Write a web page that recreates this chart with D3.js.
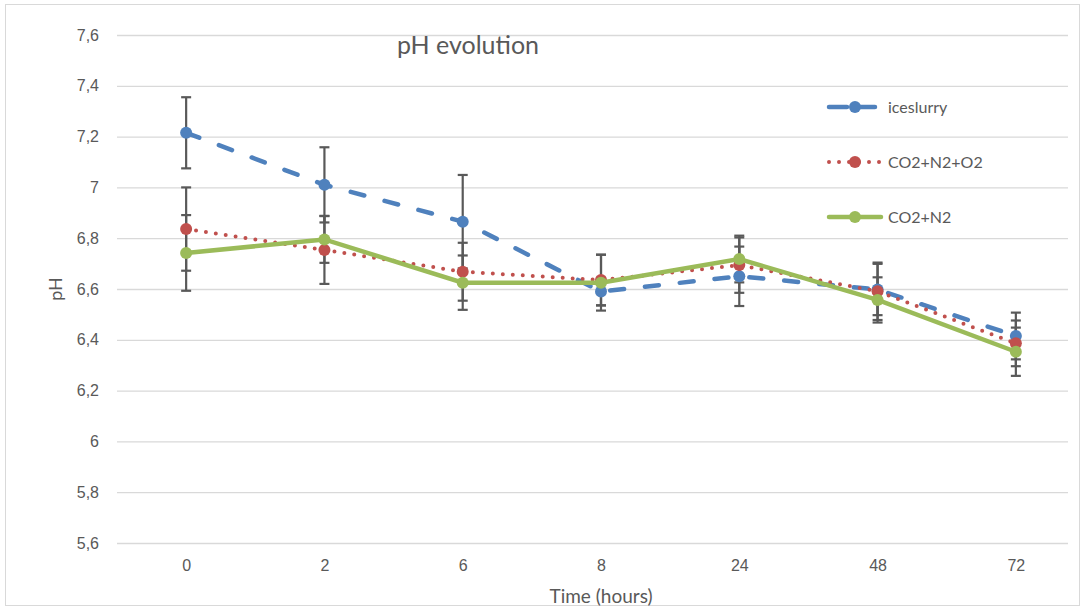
<!DOCTYPE html>
<html>
<head>
<meta charset="utf-8">
<script src="https://cdn.jsdelivr.net/npm/d3@7"></script>
<style>
  body { margin: 0; background: #fff; }
  svg { font-family: Lato, "Open Sans", sans-serif; }
</style>
</head>
<body>
<div class="d3-container"></div>
<script>
// data
const categories = ["0", "2", "6", "8", "24", "48", "72"];
const iceslurry = [7.215, 7.01, 6.865, 6.59, 6.65, 6.598, 6.415];
const iceslurryErr = [0.14, 0.148, 0.184, 0.054, 0.117, 0.101, 0.092];
const co2n2o2 = [6.836, 6.754, 6.668, 6.635, 6.694, 6.591, 6.386];
const co2n2o2Err = [0.164, 0.134, 0.114, 0.1, 0.109, 0.113, 0.09];
const co2n2 = [6.742, 6.795, 6.625, 6.625, 6.718, 6.557, 6.353];
const co2n2Err = [0.149, 0.092, 0.107, 0.11, 0.092, 0.089, 0.095];
const yTicks = [5.6, 5.8, 6, 6.2, 6.4, 6.6, 6.8, 7, 7.2, 7.4, 7.6];

const series = [
  {name: "iceslurry", values: iceslurry, err: iceslurryErr, color: "#4f81bd", dash: "14,21"},
  {name: "CO2+N2+O2", values: co2n2o2, err: co2n2o2Err, color: "#c0504d", dash: "0,10"},
  {name: "CO2+N2", values: co2n2, err: co2n2Err, color: "#9bbb59", dash: null},
];

const width = 1081;
const height = 610;
const plot = {left: 117, right: 1068, top: 35, bottom: 543};

const svg = d3.select(".d3-container")
  .append("svg")
  .attr("width", width)
  .attr("height", height);

// chart border
svg.append("rect")
  .attr("x", 5.5).attr("y", 4.5)
  .attr("width", 1074).attr("height", 601)
  .attr("fill", "#fff")
  .attr("stroke", "#d9d9d9");

const x = d3.scalePoint()
  .domain(categories)
  .range([plot.left, 1085])
  .padding(0.5);

const y = d3.scaleLinear()
  .domain([5.6, 7.6])
  .range([plot.bottom, plot.top]);

// y axis with gridlines
const yAxis = svg.append("g")
  .attr("transform", `translate(${plot.left},0)`)
  .call(d3.axisLeft(y)
    .tickValues(yTicks)
    .tickSize(-(plot.right - plot.left))
    .tickPadding(18)
    .tickFormat(d => String(+d.toFixed(1)).replace(".", ",")));
yAxis.select(".domain").remove();
yAxis.selectAll(".tick line").attr("stroke", "#d9d9d9").attr("stroke-width", 1.3);
yAxis.selectAll(".tick text").attr("fill", "#595959").attr("font-size", 16);

// x axis
const xAxis = svg.append("g")
  .attr("transform", `translate(0,${plot.bottom})`)
  .call(d3.axisBottom(x).tickSize(0).tickPadding(17));
xAxis.select(".domain").remove();
xAxis.selectAll(".tick text").attr("fill", "#595959").attr("font-size", 16);

// titles
svg.append("text")
  .attr("x", 468).attr("y", 54)
  .attr("text-anchor", "middle")
  .attr("fill", "#595959")
  .attr("font-size", 25)
  .text("pH evolution");

svg.append("text")
  .attr("x", 601).attr("y", 603)
  .attr("text-anchor", "middle")
  .attr("fill", "#595959")
  .attr("font-size", 19)
  .text("Time (hours)");

svg.append("text")
  .attr("transform", `translate(62,289) rotate(-90)`)
  .attr("text-anchor", "middle")
  .attr("fill", "#595959")
  .attr("font-size", 18)
  .text("pH");

// error bars
const errG = svg.append("g").attr("stroke", "#595959").attr("stroke-width", 2.2);
series.forEach(s => {
  s.values.forEach((v, i) => {
    const cx = x(categories[i]);
    const lo = y(v - s.err[i]), hi = y(v + s.err[i]);
    errG.append("line").attr("x1", cx).attr("x2", cx).attr("y1", lo).attr("y2", hi);
    errG.append("line").attr("x1", cx - 5).attr("x2", cx + 5).attr("y1", lo).attr("y2", lo);
    errG.append("line").attr("x1", cx - 5).attr("x2", cx + 5).attr("y1", hi).attr("y2", hi);
  });
});

const line = d3.line()
  .x((d, i) => x(categories[i]))
  .y(d => y(d));

series.forEach(s => {
  svg.append("path")
    .datum(s.values)
    .attr("fill", "none")
    .attr("stroke", s.color)
    .attr("stroke-width", s.dash === "0,10" ? 4 : 4.5)
    .attr("stroke-linecap", "round")
    .attr("stroke-dasharray", s.dash)
    .attr("d", line);

  svg.append("g")
    .selectAll("circle")
    .data(s.values)
    .join("circle")
    .attr("cx", (d, i) => x(categories[i]))
    .attr("cy", d => y(d))
    .attr("r", 6)
    .attr("fill", s.color);
});

// legend
const legend = svg.append("g");
series.forEach((s, i) => {
  const ly = 107 + i * 55;
  legend.append("line")
    .attr("x1", 829).attr("x2", 881)
    .attr("y1", ly).attr("y2", ly)
    .attr("stroke", s.color)
    .attr("stroke-width", s.dash === "0,10" ? 4 : 4.5)
    .attr("stroke-linecap", "round")
    .attr("stroke-dasharray", s.dash === "14,21" ? "18,10" : s.dash);
  legend.append("circle")
    .attr("cx", 855).attr("cy", ly).attr("r", 6)
    .attr("fill", s.color);
  legend.append("text")
    .attr("x", 888).attr("y", ly)
    .attr("dy", "0.35em")
    .attr("fill", "#595959")
    .attr("font-size", 16)
    .text(s.name);
});
</script>
</body>
</html>
